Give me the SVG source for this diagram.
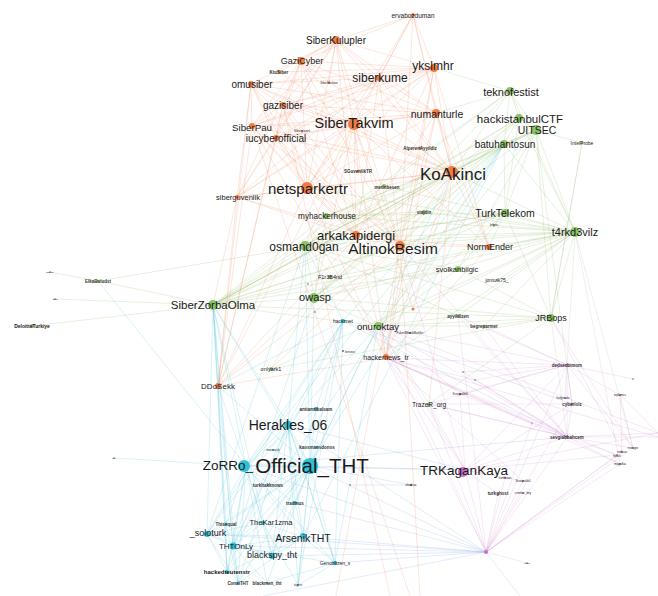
<svg xmlns="http://www.w3.org/2000/svg" width="658" height="596" viewBox="0 0 658 596">
<style>
.eo{stroke:#f08a60;stroke-opacity:.36;stroke-width:.6;fill:none}
.eg{stroke:#9cc77c;stroke-opacity:.42;stroke-width:.6;fill:none}
.ec{stroke:#5fc8dc;stroke-opacity:.4;stroke-width:.6;fill:none}
.ep{stroke:#d286d2;stroke-opacity:.32;stroke-width:.6;fill:none}
.eb{stroke:#8eaee6;stroke-opacity:.4;stroke-width:.6;fill:none}
.ey{stroke:#b0b0a0;stroke-opacity:.35;stroke-width:.6;fill:none}
.o{fill:#f07a45}.g{fill:#8bc46a}.c{fill:#2fc0d8}.p{fill:#c670c6}.k{fill:#666}
text{font-family:"Liberation Sans",Arial,sans-serif;fill:#1a1a1a;text-anchor:middle;dominant-baseline:central}
.s{font-size:4.5px;font-weight:bold;fill:#333}
</style>
<rect width="658" height="596" fill="#fff"/>
<g id="connectors">
<path class="eo" d="M336 40L301 61M336 40L251 84M336 40L379 78M336 40L283 105M336 40L252 126M336 40L354 124M336 40L276 138M336 40L307 188M336 40L452 172M336 40L434 68M336 40L436 113M336 40L237 197M336 40L356 237M336 40L400 245M336 40L329 83M336 40L279 72
M413 15L336 40M413 15L379 78M413 15L354 124M413 15L452 172M413 15L434 68M413 15L436 113M413 15L301 61M413 15L307 188M413 15L400 245
M434 68L251 84M434 68L301 61M434 68L354 124M434 68L452 172M434 68L307 188M434 68L400 245M434 68L379 78M434 68L283 105M434 68L276 138M434 68L252 126M434 68L356 237M434 68L386 358M434 68L489 247M434 68L237 197M434 68L279 72
M354 124L251 84M354 124L301 61M354 124L283 105M354 124L252 126M354 124L276 138M354 124L307 188M354 124L452 172M354 124L400 245M354 124L356 237M354 124L237 197M354 124L436 113M354 124L218 386M354 124L386 358M354 124L305 245M354 124L314 298M354 124L489 247M354 124L358 171M354 124L279 72
M452 172L251 84M452 172L301 61M452 172L379 78M452 172L283 105M452 172L252 126M452 172L276 138M452 172L307 188M452 172L356 237M452 172L400 245M452 172L237 197M452 172L436 113M452 172L489 247M452 172L386 358M452 172L218 386M452 172L213 305M452 172L429 404M452 172L420 148M452 172L384 186
M307 188L251 84M307 188L301 61M307 188L283 105M307 188L252 126M307 188L276 138M307 188L237 197M307 188L400 245M307 188L356 237M307 188L436 113M307 188L218 386M307 188L386 358M307 188L379 78
M400 245L251 84M400 245L301 61M400 245L283 105M400 245L379 78M400 245L252 126M400 245L276 138M400 245L237 197M400 245L436 113M400 245L489 247M400 245L218 386M400 245L386 358M400 245L271 369M400 245L420 596M400 245L336 596
M356 237L251 84M356 237L252 126M356 237L276 138M356 237L283 105M356 237L301 61M356 237L379 78M356 237L436 113M356 237L237 197M356 237L218 386M356 237L386 358M356 237L489 247
M251 84L283 105M251 84L252 126M251 84L276 138M251 84L237 197M251 84L218 386M251 84L379 78M251 84L436 113
M379 78L283 105M379 78L252 126M379 78L276 138M379 78L436 113M379 78L237 197
M436 113L283 105M436 113L252 126M436 113L276 138M436 113L489 247M436 113L386 358
M237 197L218 386M237 197L213 305M252 126L218 386M252 126L386 358M301 61L283 105M301 61L252 126M301 61L276 138M301 61L237 197M301 61L436 113M283 105L252 126M283 105L276 138M283 105L218 386M276 138L218 386M276 138L237 197M413 309L452 172M413 309L354 124M386 358L218 386M386 358L489 247M252 126L410 596M283 105L390 596"/>
<path class="eg" d="M575 232L505 213M575 232L504 144M575 232L536 130M575 232L519 118M575 232L510 91M575 232L452 172M575 232L458 269M575 232L497 280M575 232L424 212M575 232L326 216M575 232L305 245M575 232L314 298M575 232L213 305M575 232L378 326M575 232L551 318M575 232L458 316M575 232L484 326M575 232L384 186M575 232L330 277M575 232L400 245M575 232L307 188M575 232L489 247M575 232L386 358M575 232L271 369M575 232L494 225M575 232L356 237
M536 130L519 118M536 130L510 91M536 130L504 144M536 130L582 143M536 130L452 172M536 130L505 213M536 130L305 245M536 130L314 298M536 130L213 305M536 130L378 326M536 130L458 269M536 130L326 216M536 130L551 318M536 130L572 404
M504 144L510 91M504 144L519 118M504 144L452 172M504 144L505 213M504 144L305 245M504 144L314 298M504 144L213 305M504 144L378 326M504 144L326 216M504 144L424 212M504 144L400 245
M510 91L436 113M510 91L452 172M510 91L305 245M510 91L213 305M510 91L314 298M510 91L434 68M510 91L519 118
M519 118L452 172M519 118L305 245M519 118L314 298M519 118L213 305M519 118L505 213M519 118L400 245
M213 305L305 245M213 305L314 298M213 305L326 216M213 305L378 326M213 305L32 326M213 305L98 281M213 305L505 213M213 305L458 269M213 305L452 172M213 305L551 318M213 305L55 299M213 305L424 212M213 305L330 277M213 305L356 237M213 305L400 245
M98 281L50 272M98 281L505 213
M305 245L326 216M305 245L314 298M305 245L378 326M305 245L452 172M305 245L505 213M305 245L458 269M305 245L551 318M305 245L424 212M305 245L458 316
M314 298L378 326M314 298L551 318M314 298L458 269M314 298L505 213M314 298L326 216M314 298L271 369M314 298L330 277
M378 326L551 318M378 326L505 213M378 326L458 269M378 326L458 316M378 326L484 326
M551 318L505 213M551 318L458 269M551 318L484 326M551 318L271 369M551 318L582 143
M505 213L326 216M505 213L400 245M505 213L458 269M505 213L494 225M505 213L489 247M326 216L452 172M326 216L424 212M429 404L378 326M429 404L551 318"/>
<path class="ey" d="M575 232L567 365M575 232L620 464M575 232L633 448M582 143L551 318M551 318L567 437"/>
<path class="ec" d="M310 466L246 466M310 466L288 424M310 466L316 409M310 466L317 447M310 466L268 485M310 466L295 503M310 466L263 523M310 466L207 534M310 466L303 537M310 466L233 546M310 466L272 556M310 466L227 572M310 466L335 563M310 466L238 583M310 466L267 583M310 466L343 321M310 466L213 305M310 466L314 298M310 466L305 245M310 466L504 144M310 466L378 326M310 466L218 386M310 466L298 585M310 466L226 524M310 466L273 450
M246 466L288 424M246 466L207 534M246 466L233 546M246 466L263 523M246 466L303 537M246 466L272 556M246 466L227 572M246 466L238 583M246 466L267 583M246 466L295 503M246 466L316 409M246 466L213 305M246 466L218 386M246 466L114 458M246 466L98 281M246 466L343 321M246 466L335 563M246 466L226 524
M288 424L207 534M288 424L233 546M288 424L303 537M288 424L272 556M288 424L227 572M288 424L213 305M288 424L343 321M288 424L305 245M288 424L378 326M288 424L295 503M288 424L335 563M288 424L238 583
M213 305L207 534M213 305L233 546M213 305L227 572M213 305L218 386M213 305L238 583M213 305L226 524M213 305L272 556
M207 534L233 546M207 534L227 572M207 534L238 583M207 534L272 556M207 534L303 537M207 534L263 523M207 534L343 321M207 534L226 524
M233 546L272 556M233 546L303 537M233 546L227 572M233 546L238 583M233 546L267 583M233 546L263 523M233 546L335 563
M303 537L272 556M303 537L335 563M303 537L227 572M303 537L238 583M303 537L263 523M303 537L298 585M303 537L295 503
M335 563L343 321M335 563L298 585M335 563L267 583M335 563L378 326M335 563L288 424
M343 321L233 546M343 321L272 556M343 321L298 585M343 321L305 245M343 321L218 386M218 386L233 546M218 386L227 572M298 585L263 523M298 585L288 424
M504 144L343 321M504 144L303 537M504 144L246 466M504 144L233 546M226 524L227 572M226 524L238 583M452 172L310 466M305 245L207 534M314 298L233 546"/>
<path class="ep" d="M465 470L486 552M465 470L567 437M465 470L572 404M465 470L617 455M465 470L505 478M465 470L523 481M465 470L498 494M465 470L378 326M465 470L386 358M465 470L429 404M465 470L567 365M465 470L460 394M465 470L658 433M465 470L400 245
M486 552L567 437M486 552L572 404M486 552L617 455M486 552L622 452M486 552L620 464M486 552L505 478M486 552L523 481M486 552L498 494M486 552L523 493M486 552L527 563M486 552L520 596M486 552L386 358M486 552L378 326M486 552L429 404M486 552L532 423M486 552L567 365M486 552L633 448M486 552L458 316
M567 437L572 404M567 437L617 455M567 437L620 464M567 437L658 433M567 437L658 437M567 437L378 326M567 437L386 358M567 437L484 326M567 437L458 316M567 437L429 404M567 437L567 365M567 437L633 448M567 437L460 394M567 437L475 380
M567 365L572 404M567 365L620 395M567 365L565 398M567 365L633 379M567 365L386 358M567 365L378 326M567 365L429 404M567 365L458 316M567 365L484 326M567 365L463 372M567 365L475 380M567 365L460 394M567 365L633 448
M386 358L617 455M386 358L620 464M386 358L532 423M386 358L523 481M460 394L378 326M475 380L386 358M463 372L567 437M620 395L633 448M620 395L622 452M620 395L658 433M429 404L572 404M429 404L567 437M551 318L633 448M551 318L623 452M386 358L658 437M378 326L658 433M400 245L567 437"/>
<path class="eb" d="M486 552L310 466M486 552L246 466M486 552L303 537M486 552L233 546M486 552L288 424M486 552L272 556M486 552L335 563M486 552L207 534M486 552L295 503M465 470L310 466M465 470L246 466M465 470L288 424M411 485L310 466M411 485L350 485M343 321L567 437M343 321L572 404M246 466L567 437M486 552L263 596"/>
</g>
<g id="n-ervabozduman"><circle cx="413" cy="15" r="2" class="o"/><text x="413" y="15" style="font-size:6.5px">ervabozduman</text></g>
<g id="n-SiberKulupler"><circle cx="336" cy="40" r="4" class="o"/><text x="336" y="40" style="font-size:10px">SiberKulupler</text></g>
<g id="n-GaziCyber"><circle cx="301" cy="61" r="4" class="o"/><text x="302" y="61" style="font-size:9px">GaziCyber</text></g>
<g id="n-KtuSiber"><circle cx="279" cy="72" r="1.5" class="o"/><text x="279" y="72" class="s">KtuSiber</text></g>
<g id="n-omusiber"><circle cx="251" cy="84" r="3" class="o"/><text x="252" y="84" style="font-size:10px">omusiber</text></g>
<g id="n-SiberMerkez"><circle cx="329" cy="83" r="1" class="o"/><text x="329" y="83" style="font-size:3px">SiberMerkezi</text></g>
<g id="n-siberkume"><circle cx="379" cy="78" r="3" class="o"/><text x="380" y="78" style="font-size:12px">siberkume</text></g>
<g id="n-ykslmhr"><circle cx="434" cy="68" r="4" class="o"/><text x="433" y="66" style="font-size:12px">ykslmhr</text></g>
<g id="n-gazisiber"><circle cx="283" cy="105" r="3" class="o"/><text x="283" y="105" style="font-size:10px">gazisiber</text></g>
<g id="n-numanturle"><circle cx="436" cy="113" r="4" class="o"/><text x="437" y="114" style="font-size:10.5px">numanturle</text></g>
<g id="n-SiberPau"><circle cx="252" cy="126" r="3" class="o"/><text x="252" y="127" style="font-size:9.7px">SiberPau</text></g>
<g id="n-iucyberofficial"><circle cx="276" cy="138" r="3" class="o"/><text x="276" y="138" style="font-size:10px">iucyberofficial</text></g>
<g id="n-Siberguvenligi"><circle cx="302" cy="131" r="1" class="o"/><text x="302" y="131" style="font-size:3px">Siberguvenl</text></g>
<g id="n-SiberTakvim"><circle cx="354" cy="124" r="6" class="o"/><text x="354" y="123" style="font-size:14.5px">SiberTakvim</text></g>
<g id="n-AlperenAyyildiz"><circle cx="420" cy="148" r="1.5" class="o"/><text x="420" y="148" class="s">AlperenAyyildiz</text></g>
<g id="n-SGuvenlikTR"><circle cx="358" cy="171" r="1.5" class="o"/><text x="358" y="171" class="s">SGuvenlikTR</text></g>
<g id="n-netsparkertr"><circle cx="307" cy="188" r="6" class="o"/><text x="308" y="188" style="font-size:15px">netsparkertr</text></g>
<g id="n-siberguvenlik"><circle cx="237" cy="197" r="2" class="o"/><text x="238" y="197" style="font-size:7.5px">siberguvenlik</text></g>
<g id="n-KoAkinci"><circle cx="452" cy="172" r="6" class="o"/><text x="453" y="174" style="font-size:17px">KoAkinci</text></g>
<g id="n-metinbesen"><circle cx="384" cy="186" r="2" class="g"/><text x="387" y="187" class="s">metinbesen</text></g>
<g id="n-stajdin"><circle cx="424" cy="212" r="2" class="g"/><text x="424" y="212" class="s">stajdin</text></g>
<g id="n-teknofestist"><circle cx="510" cy="91" r="4" class="g"/><text x="511" y="92" style="font-size:11px">teknofestist</text></g>
<g id="n-hackistanbulCTF"><circle cx="519" cy="118" r="4" class="g"/><text x="520" y="119" style="font-size:11.5px">hackistanbulCTF</text></g>
<g id="n-UITSEC"><circle cx="536" cy="130" r="5" class="g"/><text x="537" y="130" style="font-size:10.5px">UITSEC</text></g>
<g id="n-batuhantosun"><circle cx="504" cy="144" r="4" class="g"/><text x="505" y="144" style="font-size:10px">batuhantosun</text></g>
<g id="n-IntelProbe"><circle cx="582" cy="143" r="1.5" class="g"/><text x="582" y="143" style="font-size:5px">IntelProbe</text></g>
<g id="n-TurkTelekom"><circle cx="505" cy="213" r="4" class="g"/><text x="505" y="213" style="font-size:10.5px">TurkTelekom</text></g>
<g id="n-bilgitu"><circle cx="494" cy="225" r="1" class="g"/><text x="494" y="225" style="font-size:3px">bilgitu</text></g>
<g id="n-t4rkd3vilz"><circle cx="575" cy="232" r="5" class="g"/><text x="575" y="232" style="font-size:11px">t4rkd3vilz</text></g>
<g id="n-myhackerhouse"><circle cx="326" cy="216" r="3" class="g"/><text x="327" y="216" style="font-size:8.2px">myhackerhouse</text></g>
<g id="n-arkakapidergi"><circle cx="356" cy="235" r="4" class="o"/><text x="356" y="235" style="font-size:13px">arkakapidergi</text></g>
<g id="n-osmand0gan"><circle cx="305" cy="246" r="5" class="g"/><text x="304" y="247" style="font-size:12px">osmand0gan</text></g>
<g id="n-AltinokBesim"><circle cx="400" cy="246" r="5" class="o"/><text x="393" y="248" style="font-size:15.5px">AltinokBesim</text></g>
<g id="n-NormEnder"><circle cx="489" cy="247" r="3" class="o"/><text x="490" y="247" style="font-size:9px">NormEnder</text></g>
<g id="n-svolkanbilgic"><circle cx="458" cy="269" r="3" class="g"/><text x="457" y="269" style="font-size:7.5px">svolkanbilgic</text></g>
<g id="n-jontutik75"><circle cx="497" cy="280" r="1" class="g"/><text x="497" y="280" style="font-size:5px">jontutk75_</text></g>
<g id="n-F1r3B4nd"><circle cx="330" cy="277" r="2" class="g"/><text x="330" y="277" style="font-size:5.5px">F1r3B4nd</text></g>
<g id="n-owasp"><circle cx="314" cy="298" r="5" class="g"/><text x="315" y="297" style="font-size:11px">owasp</text></g>
<g id="n-SiberZorbaOlma"><circle cx="213" cy="305" r="5" class="g"/><text x="213" y="305" style="font-size:11.5px">SiberZorbaOlma</text></g>
<g id="n-ElkaBuludst"><circle cx="98" cy="281" r="1.5" class="g"/><text x="98" y="281" class="s">ElkaBuludst</text></g>
<g id="n-left1"><circle cx="50" cy="272" r=".8" class="k"/><text x="50" y="272" style="font-size:2.5px">ssgme</text></g>
<g id="n-left2"><circle cx="55" cy="299" r=".8" class="k"/><text x="55" y="299" style="font-size:2.5px">alpis</text></g>
<g id="n-DeloitteTurkiye"><circle cx="32" cy="326" r="2" class="g"/><text x="32" y="326" style="font-size:5px;font-weight:bold">DeloitteTurkiye</text></g>
<g id="n-JRBops"><circle cx="551" cy="318" r="4" class="g"/><text x="551" y="318" style="font-size:9px">JRBops</text></g>
<g id="n-ayyildizen"><circle cx="458" cy="316" r="1.5" class="g"/><text x="458" y="316" class="s">ayyildizen</text></g>
<g id="n-begreparmer"><circle cx="484" cy="326" r="1.5" class="g"/><text x="484" y="326" class="s">begreparmer</text></g>
<g id="n-hackznet"><circle cx="343" cy="321" r="2" class="c"/><text x="343" y="321" style="font-size:5px">hackznet</text></g>
<g id="n-onuroktay"><circle cx="378" cy="326" r="4" class="g"/><text x="378" y="326" style="font-size:9.6px">onuroktay</text></g>
<g id="n-fukenbilesik"><circle cx="410" cy="333" r="1" class="k"/><text x="410" y="333" style="font-size:3px">FukenBilesikMahller</text></g>
<g id="n-hackernews_tr"><circle cx="386" cy="357" r="3" class="o"/><text x="386" y="357" style="font-size:7px">hackernews_tr</text></g>
<g id="n-onlyark1"><circle cx="271" cy="369" r="2" class="g"/><text x="271" y="369" style="font-size:5.5px">onlyark1</text></g>
<g id="n-DDoSekk"><circle cx="218" cy="386" r="3" class="o"/><text x="218" y="386" style="font-size:8px">DDoSekk</text></g>
<g id="n-TrazeR_org"><circle cx="429" cy="405" r="2" class="g"/><text x="429" y="404" style="font-size:6.5px">TrazeR_org</text></g>
<g id="n-antiamtibalsam"><circle cx="316" cy="409" r="2" class="c"/><text x="316" y="409" class="s">antiamtibalsam</text></g>
<g id="n-Herakles_06"><circle cx="288" cy="425" r="4" class="c"/><text x="288" y="425" style="font-size:14px">Herakles_06</text></g>
<g id="n-kaosmaosdonos"><circle cx="317" cy="447" r="1.5" class="c"/><text x="317" y="447" class="s">kaosmaosdonos</text></g>
<g id="n-mousecuk"><circle cx="273" cy="450" r="1" class="c"/><text x="273" y="450" style="font-size:3px">mousecuk</text></g>
<g id="n-ZoRRo_"><circle cx="244" cy="466" r="6" class="c"/><text x="228" y="465" style="font-size:13.5px">ZoRRo_</text></g>
<g id="n-Official_THT"><circle cx="310" cy="466" r="8" class="c"/><text x="312" y="465" style="font-size:20.5px">Official_THT</text></g>
<g id="n-turkhakknows"><circle cx="268" cy="485" r="1" class="c"/><text x="268" y="485" class="s">turkhakknows</text></g>
<g id="n-tradmus"><circle cx="295" cy="503" r="2" class="c"/><text x="295" y="503" class="s">tradmus</text></g>
<g id="n-Thisequal"><circle cx="226" cy="524" r="1.5" class="c"/><text x="226" y="524" class="s">Thisequal</text></g>
<g id="n-TheKar1zma"><circle cx="263" cy="523" r="2" class="c"/><text x="271" y="522" style="font-size:7.5px">TheKar1zma</text></g>
<g id="n-_soloturk"><circle cx="207" cy="534" r="3" class="c"/><text x="208" y="533" style="font-size:9px">_soloturk</text></g>
<g id="n-ArsenikTHT"><circle cx="303" cy="536" r="3" class="c"/><text x="303" y="538" style="font-size:10.5px">ArsenikTHT</text></g>
<g id="n-THTOnLy"><circle cx="233" cy="546" r="3.5" class="c"/><text x="236" y="546" style="font-size:8px">THTOnLy</text></g>
<g id="n-blackspy_tht"><circle cx="272" cy="556" r="3" class="c"/><text x="272" y="555" style="font-size:9px">blackspy_tht</text></g>
<g id="n-hackedteutenstr"><circle cx="227" cy="572" r="2" class="c"/><text x="227" y="572" style="font-size:6px;font-weight:bold">hackedteutenstr</text></g>
<g id="n-Genoblizen_s"><circle cx="335" cy="563" r="2" class="c"/><text x="335" y="563" style="font-size:5px">Genoblizen_s</text></g>
<g id="n-ConaiTHT"><circle cx="238" cy="583" r="1.5" class="c"/><text x="238" y="583" class="s">ConaiTHT</text></g>
<g id="n-blackmen_tht"><circle cx="267" cy="583" r="1" class="c"/><text x="267" y="583" class="s">blackmen_tht</text></g>
<g id="n-b3"><circle cx="298" cy="585" r="1" class="c"/><text x="298" y="585" style="font-size:3px">tiigerx</text></g>
<g id="n-lf"><circle cx="114" cy="458" r=".8" class="k"/><text x="114" y="458" style="font-size:2.5px">cxx</text></g>
<g id="n-TRKaganKaya"><circle cx="463" cy="472" r="5" class="p"/><text x="464" y="470" style="font-size:13.5px">TRKaganKaya</text></g>
<g id="n-ph"><circle cx="486" cy="552" r="2" class="p"/></g>
<g id="n-p1"><circle cx="567" cy="365" r="1.5" class="p"/><text x="567" y="365" class="s">dedsecbimom</text></g>
<g id="n-p2"><circle cx="572" cy="404" r="1.5" class="p"/><text x="572" y="404" class="s">cyberlolz</text></g>
<g id="n-p19"><circle cx="565" cy="398" r="1" class="p"/><text x="563" y="398" style="font-size:3px">kufgesolo</text></g>
<g id="n-p3"><circle cx="567" cy="437" r="1.5" class="p"/><text x="567" y="437" class="s">sevgiabbahcem</text></g>
<g id="n-p12"><circle cx="620" cy="395" r="1" class="p"/><text x="620" y="395" style="font-size:3px">toplamcs</text></g>
<g id="n-p7"><circle cx="633" cy="448" r="1" class="p"/><text x="633" y="448" style="font-size:3px">nsezgin</text></g>
<g id="n-p5"><circle cx="622" cy="452" r="1" class="p"/><text x="622" y="452" style="font-size:3px">redscar</text></g>
<g id="n-p4"><circle cx="617" cy="455" r="1" class="p"/><text x="617" y="456" style="font-size:3px">hijack</text></g>
<g id="n-p6"><circle cx="620" cy="464" r="1" class="p"/><text x="620" y="464" style="font-size:3px">magaflas</text></g>
<g id="n-p8"><circle cx="505" cy="478" r="1" class="p"/><text x="505" y="478" style="font-size:3px">sunhkaos</text></g>
<g id="n-p9"><circle cx="523" cy="481" r="1" class="p"/><text x="523" y="481" style="font-size:3px">Scorpio0x0</text></g>
<g id="n-p10"><circle cx="498" cy="494" r="1" class="p"/><text x="498" y="493" class="s">turkghost</text></g>
<g id="n-p11"><circle cx="523" cy="493" r="1" class="p"/><text x="523" y="493" style="font-size:3px">cumhur_bey</text></g>
<g id="n-p13"><circle cx="532" cy="423" r=".8" class="p"/></g>
<g id="n-p14"><circle cx="460" cy="394" r="1" class="k"/><text x="460" y="394" style="font-size:3px">Scorpio0x0</text></g>
<g id="n-p15"><circle cx="475" cy="380" r=".8" class="k"/></g>
<g id="n-p16"><circle cx="463" cy="372" r=".8" class="k"/></g>
<g id="n-p17"><circle cx="527" cy="563" r=".8" class="k"/><text x="527" y="563" style="font-size:2.5px">rogue</text></g>
<g id="n-p18"><circle cx="633" cy="379" r=".8" class="k"/></g>
<g id="n-m1"><circle cx="411" cy="485" r="1" class="k"/><text x="411" y="485" style="font-size:3px">elnoktas</text></g>
<g id="n-m2"><circle cx="350" cy="485" r=".8" class="k"/></g>
<g id="n-m3"><circle cx="413" cy="309" r="1.5" class="o"/></g>
<g id="n-m4"><circle cx="308" cy="284" r=".8" class="k"/></g>
<g id="n-m5"><circle cx="315" cy="312" r=".8" class="k"/></g>
<g id="n-m6"><circle cx="343" cy="351" r="1" class="k"/><text x="350" y="352" style="font-size:3px">lonsecx</text></g>
</svg>
